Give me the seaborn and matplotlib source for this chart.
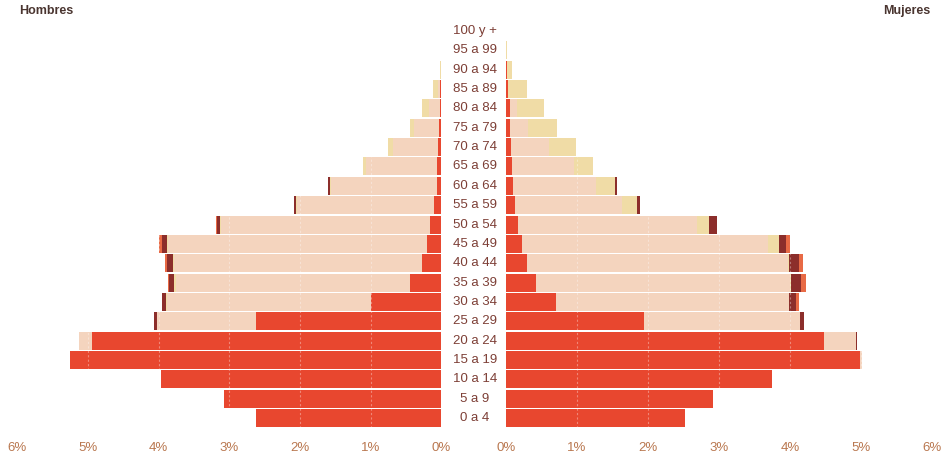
import numpy as np
import pandas as pd
import matplotlib
matplotlib.use("Agg")
import matplotlib.pyplot as plt
import matplotlib.transforms as mtransforms
import seaborn as sns

# ---------------- data (percent of total population) ----------------
ages = ["100 y +", "95 a 99", "90 a 94", "85 a 89", "80 a 84", "75 a 79", "70 a 74",
        "65 a 69", "60 a 64", "55 a 59", "50 a 54", "45 a 49", "40 a 44", "35 a 39",
        "30 a 34", "25 a 29", "20 a 24", "15 a 19", "10 a 14", "5 a 9", "0 a 4"]

# Hombres: stacked segments from the centre outward
h_red = [0, 0, 0.005, 0.015, 0.025, 0.04, 0.05, 0.06, 0.07, 0.10, 0.16, 0.21, 0.28, 0.45,
         0.99, 2.62, 4.95, 5.25, 3.97, 3.07, 2.63]
h_peach = [0, 0, 0, 0.04, 0.155, 0.35, 0.64, 1.01, 1.49, 1.95, 2.96, 3.66, 3.51, 3.31,
           2.89, 1.41, 0.18, 0, 0, 0, 0]
h_yellow = [0, 0, 0.02, 0.065, 0.09, 0.05, 0.07, 0.04, 0.02, 0.01, 0.01, 0.01, 0.01, 0.02,
            0.01, 0, 0, 0, 0, 0, 0]
h_dark = [0, 0, 0, 0, 0, 0, 0, 0, 0.02, 0.03, 0.05, 0.08, 0.08, 0.07, 0.06, 0.04, 0, 0, 0, 0, 0]
h_orange = [0, 0, 0, 0, 0, 0, 0, 0, 0, 0, 0.01, 0.03, 0.03, 0.02, 0.01, 0, 0, 0, 0, 0, 0]

# Mujeres
m_red = [0, 0, 0.01, 0.03, 0.05, 0.05, 0.07, 0.08, 0.10, 0.12, 0.17, 0.23, 0.29, 0.42,
         0.71, 1.94, 4.48, 4.99, 3.75, 2.91, 2.52]
m_peach = [0, 0, 0, 0, 0.10, 0.26, 0.53, 0.88, 1.17, 1.51, 2.52, 3.46, 3.68, 3.58,
           3.28, 2.20, 0.45, 0.02, 0, 0, 0]
m_yellow = [0, 0.01, 0.08, 0.26, 0.38, 0.41, 0.38, 0.27, 0.27, 0.21, 0.17, 0.15, 0.02, 0.02,
            0, 0, 0, 0, 0, 0, 0]
m_dark = [0, 0, 0, 0, 0, 0, 0, 0, 0.03, 0.05, 0.11, 0.10, 0.14, 0.14, 0.09, 0.06, 0.01, 0, 0, 0, 0]
m_orange = [0, 0, 0, 0, 0, 0, 0, 0, 0, 0, 0, 0.06, 0.06, 0.07, 0.05, 0, 0, 0, 0, 0, 0]

x_ticks = [0, 1, 2, 3, 4, 5, 6]
x_tick_labels = ["0%", "1%", "2%", "3%", "4%", "5%", "6%"]

seg_colors = ["#E8472F", "#F4D4BE", "#F0DCA6", "#8C2E2B", "#E86A45"]

# ---------------- figure ----------------
sns.set_theme(style="white")
plt.rcParams["font.family"] = ["Liberation Sans", "DejaVu Sans"]

fig = plt.figure(figsize=(9.47, 4.57), dpi=100)
ax_l = fig.add_axes([0.01827, 0.0641, 0.4479, 0.8893])
ax_r = fig.add_axes([0.5343, 0.0641, 0.4498, 0.8893])

def draw_side(ax, segs):
    cum = np.cumsum(np.array(segs, dtype=float), axis=0)
    # draw outermost cumulative first so inner segments cover them
    for i in range(len(segs) - 1, -1, -1):
        df = pd.DataFrame({"age": ages, "val": cum[i]})
        sns.barplot(data=df, x="val", y="age", order=ages, orient="h",
                    color=seg_colors[i], saturation=1, width=0.93,
                    linewidth=0, ax=ax)
    for xv in [1, 2, 3, 4, 5]:
        ax.axvline(xv, color="white", lw=0.8, ls=(0, (2, 2)), alpha=0.35, zorder=5)
    ax.set_ylim(20.5, -0.5)
    ax.set_xticks(x_ticks)
    ax.set_xticklabels(x_tick_labels, color="#B9774F", fontsize=9.5)
    ax.tick_params(axis="x", length=0, pad=10)
    ax.set_yticks([])
    ax.set_xlabel("")
    ax.set_ylabel("")
    for s in ax.spines.values():
        s.set_visible(False)
    ax.set_facecolor("none")

draw_side(ax_l, [h_red, h_peach, h_yellow, h_dark, h_orange])
ax_l.set_xlim(6, 0)
draw_side(ax_r, [m_red, m_peach, m_yellow, m_dark, m_orange])
ax_r.set_xlim(0, 6)

# age labels in the centre gap
trans = mtransforms.blended_transform_factory(fig.transFigure, ax_l.transData)
for i, lab in enumerate(ages):
    fig.text(475 / 947, i, lab, transform=trans, ha="center", va="center",
             fontsize=9.5, color="#7D3F36")

fig.text(19 / 947, 1 - 11 / 457, "Hombres", ha="left", va="center",
         fontsize=9, fontweight="bold", color="#4A3530")
fig.text(930 / 947, 1 - 11 / 457, "Mujeres", ha="right", va="center",
         fontsize=9, fontweight="bold", color="#4A3530")

fig.savefig("out.png", dpi=100, facecolor="white")
